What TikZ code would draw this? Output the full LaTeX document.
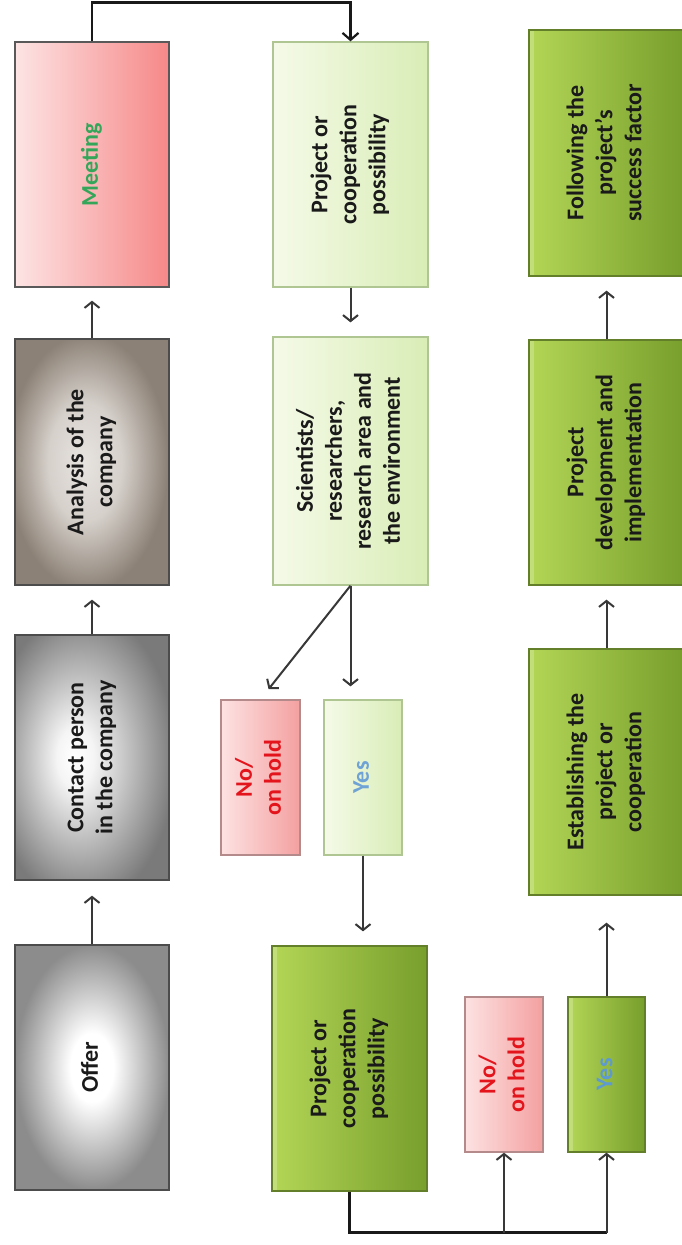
\documentclass[tikz,border=0pt]{standalone}
\usepackage{fontspec}
\setmainfont{Carlito}
\usetikzlibrary{arrows.meta}
\definecolor{txt}{HTML}{1A1A1A}
\definecolor{conn}{HTML}{383838}
\definecolor{meetgreen}{HTML}{34A65A}
\definecolor{nored}{HTML}{E3141C}
\definecolor{yesblue}{HTML}{6FA3D6}
\definecolor{yesblue2}{HTML}{5E9AD0}
\definecolor{lgL}{HTML}{F5FAE8}
\definecolor{lgR}{HTML}{D9EDB6}
\definecolor{lgB}{HTML}{AFC592}
\definecolor{dgL}{HTML}{B3D656}
\definecolor{dgM}{HTML}{9BC53E}
\definecolor{dgR}{HTML}{789E2C}
\definecolor{dgB}{HTML}{637F2A}
\definecolor{pkL}{HTML}{FDE2E2}
\definecolor{pkR}{HTML}{F4A0A0}
\definecolor{pkB}{HTML}{B58A8A}
\definecolor{mtL}{HTML}{FDE4E4}
\definecolor{mtR}{HTML}{F68888}
\pgfdeclareradialshading{offershade}{\pgfpoint{0bp}{0bp}}{color(0bp)=(white); color(7bp)=(white); color(25bp)=(black!45); color(50bp)=(black!45)}
\pgfdeclareradialshading{contactshade}{\pgfpoint{-6bp}{0bp}}{color(0bp)=(white); color(6bp)=(black!4); color(30bp)=(black!52); color(60bp)=(black!52)}
\pgfdeclareradialshading{analysisshade}{\pgfpoint{-3bp}{0bp}}{color(0bp)=(brown!6!white!92!black); color(12bp)=(brown!10!white!86!black); color(26bp)=(brown!30!black!58); color(50bp)=(brown!30!black!58)}
\newcommand{\rtext}[1]{\rotatebox{90}{\begin{tabular}{@{}c@{}}#1\end{tabular}}}
\begin{document}
\begin{tikzpicture}[x=1pt,y=-1pt,
  box/.style={rectangle, inner sep=0pt, line width=1.3pt,
    font=\fontsize{24}{29}\selectfont\bfseries, text=txt},
  graybox/.style={box, draw=black!70},
  lightgreen/.style={box, draw=lgB, left color=lgL, right color=lgR},
  pinkbox/.style={box, draw=pkB, left color=pkL, right color=pkR},
  darkgreen/.style={box, draw=dgB, left color=dgL, middle color=dgM, right color=dgR,
    path picture={\fill[white,opacity=0.22] (path picture bounding box.south west) rectangle ([xshift=5pt]path picture bounding box.north west);}},
  arr/.style={draw=conn, line width=2pt, -{Straight Barb[length=6pt,width=15pt,line width=2pt]}},
  loopline/.style={draw=black!90, line width=2.6pt}
]
\useasboundingbox (0,0) rectangle (681,1245);
\fill[white] (0,0) rectangle (681,1245);

% column 1
\node[graybox, minimum width=154pt, minimum height=245pt, shading=offershade] (offer) at (92,1067.5) {\rtext{Offer}};
\node[graybox, minimum width=154pt, minimum height=245pt, shading=contactshade] (contact) at (92,757.5) {\rtext{Contact person\\in the company}};
\node[graybox, minimum width=154pt, minimum height=246pt, shading=analysisshade] (analysis) at (92,462) {\rtext{Analysis of the\\company}};
\node[box, draw=black!65, minimum width=154pt, minimum height=245pt, left color=mtL, right color=mtR, text=meetgreen] (meeting) at (92,164.5) {\rtext{Meeting}};

% column 2
\node[lightgreen, minimum width=155pt, minimum height=245pt] (proj1) at (350.5,164.5) {\rtext{Project or\\cooperation\\possibility}};
\node[lightgreen, minimum width=155pt, minimum height=248pt] (sci) at (350.5,461) {\rtext{Scientists/\\researchers,\\research area and\\the environment}};
\node[pinkbox, minimum width=79pt, minimum height=155pt, text=nored] (no1) at (260.5,777.5) {\rtext{No/\\on hold}};
\node[lightgreen, minimum width=78pt, minimum height=155pt, text=yesblue] (yes1) at (363,777.5) {\rtext{Yes}};
\node[darkgreen, minimum width=155pt, minimum height=245pt] (proj2) at (349.5,1068.5) {\rtext{Project or\\cooperation\\possibility}};
\node[pinkbox, minimum width=78pt, minimum height=155pt, text=nored] (no2) at (504,1074.5) {\rtext{No/\\on hold}};
\node[darkgreen, minimum width=77pt, minimum height=155pt, text=yesblue2] (yes2) at (606.5,1074.5) {\rtext{Yes}};

% column 3
\node[darkgreen, minimum width=155pt, minimum height=246pt] (estab) at (606.5,772) {\rtext{Establishing the\\project or\\cooperation}};
\node[darkgreen, minimum width=155pt, minimum height=245pt] (dev) at (606.5,462.5) {\rtext{Project\\development and\\implementation}};
\node[darkgreen, minimum width=155pt, minimum height=246pt] (follow) at (606.5,153) {\rtext{Following the\\project's\\success factor}};

% connectors column 1
\draw[arr, shorten >=15pt] (offer.north) -- (contact.south);
\draw[arr, shorten >=14pt] (contact.north) -- (analysis.south);
\draw[arr, shorten >=13pt] (analysis.north) -- (meeting.south);
\draw[loopline, -{Straight Barb[length=7pt,width=16pt,line width=2.2pt]}] (meeting.north) -- ++(0,-39) -| (proj1.north);

% column 2
\draw[arr, shorten >=14pt] (proj1.south) -- (sci.north);
\draw[arr, shorten >=13pt] (sci.south) -- (no1.north);
\draw[arr, shorten >=13pt] (sci.south) -- (sci.south |- yes1.north);
\draw[arr, shorten >=14pt] (yes1.south) -- (yes1.south |- proj2.north);
\coordinate (bl) at ([yshift=-41pt]proj2.south);
\coordinate (bn) at (bl -| no2.south);
\coordinate (by) at (bl -| yes2.south);
\draw[loopline] (proj2.south) -- (bl) -- (by);
\draw[arr] (bn) -- (no2.south);
\draw[arr] (by) -- (yes2.south);

% column 3
\draw[arr, shorten >=27pt] (yes2.north) -- (estab.south);
\draw[arr, shorten >=14pt] (estab.north) -- (dev.south);
\draw[arr, shorten >=14pt] (dev.north) -- (follow.south);
\end{tikzpicture}
\end{document}
